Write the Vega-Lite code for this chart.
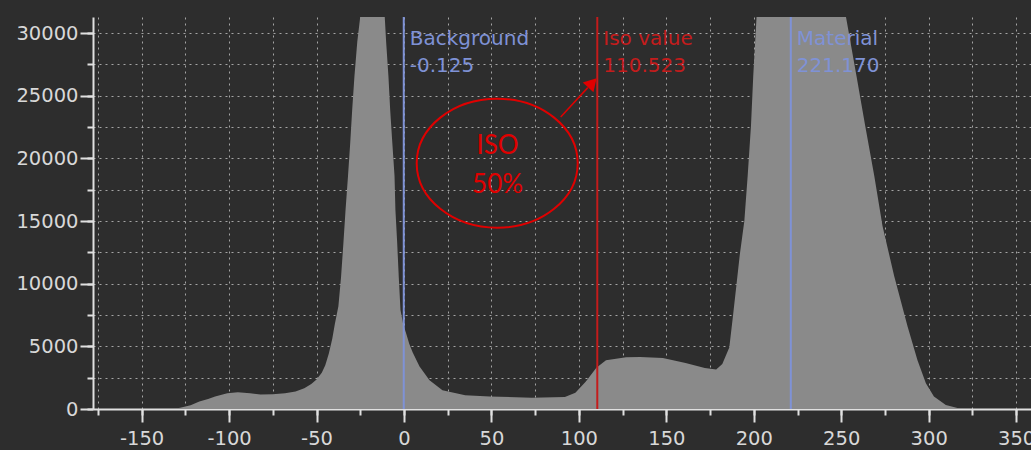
{
  "$schema": "https://vega.github.io/schema/vega-lite/v6.json",
  "width": 938,
  "height": 392,
  "autosize": {"type": "none"},
  "padding": {"left": 93, "top": 17, "right": 0, "bottom": 41},
  "background": "#2d2d2d",
  "config": {"view": {"stroke": null}},
  "datasets": {
    "hist": [
      {"v": -178, "count": 0}, {"v": -132, "count": 0}, {"v": -128, "count": 100}, {"v": -122, "count": 300},
      {"v": -117, "count": 600}, {"v": -112, "count": 800}, {"v": -108, "count": 1000}, {"v": -101, "count": 1250},
      {"v": -95, "count": 1330}, {"v": -88, "count": 1250}, {"v": -82, "count": 1150}, {"v": -75, "count": 1180},
      {"v": -68, "count": 1250}, {"v": -62, "count": 1400}, {"v": -57, "count": 1650}, {"v": -53, "count": 2000},
      {"v": -50, "count": 2350}, {"v": -47, "count": 2900}, {"v": -45, "count": 3500}, {"v": -43, "count": 4400},
      {"v": -41, "count": 5600}, {"v": -39.5, "count": 6800}, {"v": -37.5, "count": 8200}, {"v": -36, "count": 10500},
      {"v": -34.6, "count": 13300}, {"v": -33.4, "count": 15900}, {"v": -32, "count": 18600}, {"v": -30.7, "count": 21300},
      {"v": -29.6, "count": 23900}, {"v": -28.3, "count": 26600}, {"v": -26.7, "count": 29300}, {"v": -25, "count": 31300},
      {"v": -18, "count": 40000}, {"v": -11, "count": 31300}, {"v": -10.2, "count": 29300}, {"v": -8.9, "count": 26600},
      {"v": -7.9, "count": 23900}, {"v": -6.7, "count": 21300}, {"v": -5.4, "count": 18600}, {"v": -4.9, "count": 15900},
      {"v": -3.9, "count": 13300}, {"v": -3, "count": 10600}, {"v": -2, "count": 7900}, {"v": -0.5, "count": 6800},
      {"v": 1.3, "count": 6000}, {"v": 3, "count": 5200}, {"v": 5, "count": 4500}, {"v": 8.9, "count": 3400},
      {"v": 14.6, "count": 2300}, {"v": 22, "count": 1500}, {"v": 35, "count": 1100}, {"v": 49, "count": 1000},
      {"v": 73, "count": 900}, {"v": 92, "count": 960}, {"v": 98, "count": 1300}, {"v": 104, "count": 2200},
      {"v": 110, "count": 3300}, {"v": 115.5, "count": 3900}, {"v": 127, "count": 4120}, {"v": 135, "count": 4150},
      {"v": 148, "count": 4070}, {"v": 161, "count": 3670}, {"v": 172, "count": 3270}, {"v": 178.5, "count": 3150},
      {"v": 182, "count": 3600}, {"v": 186, "count": 4900}, {"v": 188, "count": 7300}, {"v": 190, "count": 9800},
      {"v": 192, "count": 12300}, {"v": 194.6, "count": 15000}, {"v": 196.5, "count": 18600}, {"v": 198.4, "count": 22600},
      {"v": 199.7, "count": 26600}, {"v": 201.6, "count": 31300}, {"v": 227, "count": 42000}, {"v": 252.7, "count": 31300},
      {"v": 258.7, "count": 26600}, {"v": 263.7, "count": 22600}, {"v": 268.9, "count": 18600}, {"v": 273.6, "count": 14600},
      {"v": 280.3, "count": 10600}, {"v": 287.9, "count": 6600}, {"v": 293.6, "count": 3900}, {"v": 298.4, "count": 2050},
      {"v": 303, "count": 1000}, {"v": 309.8, "count": 320}, {"v": 317, "count": 50}, {"v": 322, "count": 0},
      {"v": 358.5, "count": 0}
    ],
    "markers": [
      {"v": -0.125, "name": "Background", "label": "Background\n-0.125"},
      {"v": 110.523, "name": "Iso value", "label": "Iso value\n110.523"},
      {"v": 221.17, "name": "Material", "label": "Material\n221.170"}
    ]
  },
  "resolve": {"axis": {"x": "independent", "y": "independent"}},
  "layer": [
    {
      "data": {"name": "hist"},
      "mark": {"type": "area", "color": "#8a8a8a", "clip": true, "interpolate": "linear"},
      "encoding": {
        "x": {
          "field": "v", "type": "quantitative",
          "scale": {"domain": [-177.8, 358.5], "nice": false, "zero": false},
          "axis": {
            "orient": "bottom", "title": null, "labels": false,
            "values": [-175, -150, -125, -100, -75, -50, -25, 0, 25, 50, 75, 100, 125, 150, 175, 200, 225, 250, 275, 300, 325, 350],
            "tickSize": 6, "tickColor": "#e0e0e0", "tickWidth": 2,
            "domain": true, "domainColor": "#e0e0e0", "domainWidth": 2,
            "grid": true, "gridColor": "#a5a5a5", "gridDash": [2, 4], "gridWidth": 1
          }
        },
        "y": {
          "field": "count", "type": "quantitative",
          "scale": {"domain": [0, 31280], "nice": false},
          "axis": {
            "orient": "left", "title": null, "labels": false,
            "values": [0, 2500, 5000, 7500, 10000, 12500, 15000, 17500, 20000, 22500, 25000, 27500, 30000],
            "tickSize": 6, "tickColor": "#e0e0e0", "tickWidth": 2,
            "domain": true, "domainColor": "#e0e0e0", "domainWidth": 2,
            "grid": true, "gridColor": "#a5a5a5", "gridDash": [2, 4], "gridWidth": 1
          }
        }
      }
    },
    {
      "data": {"name": "markers"},
      "mark": {"type": "rule", "strokeWidth": 2},
      "encoding": {
        "x": {
          "field": "v", "type": "quantitative",
          "axis": {
            "orient": "bottom", "title": null,
            "values": [-150, -100, -50, 0, 50, 100, 150, 200, 250, 300, 350],
            "tickSize": 13, "tickColor": "#e0e0e0", "tickWidth": 2,
            "domain": false, "grid": false,
            "labelFont": "DejaVu Sans", "labelFontSize": 19.5, "labelColor": "#d8d8d8",
            "labelPadding": 7, "labelFlush": false, "labelOverlap": false,
            "labelExpr": "replace(datum.label, '\u2212', '-')"
          }
        },
        "color": {
          "field": "name", "type": "nominal",
          "scale": {"domain": ["Background", "Iso value", "Material"], "range": ["#7f92d6", "#c41c1c", "#7f92d6"]},
          "legend": null
        }
      }
    },
    {
      "data": {"name": "markers"},
      "mark": {"type": "text", "align": "left", "baseline": "top", "dx": 6, "font": "DejaVu Sans", "fontSize": 20, "lineBreak": "\n", "lineHeight": 27},
      "encoding": {
        "x": {"field": "v", "type": "quantitative", "axis": null},
        "y": {
          "datum": 30300, "type": "quantitative",
          "axis": {
            "orient": "left", "title": null, "format": "d",
            "values": [0, 5000, 10000, 15000, 20000, 25000, 30000],
            "tickSize": 13, "tickColor": "#e0e0e0", "tickWidth": 2,
            "domain": false, "grid": false,
            "labelFont": "DejaVu Sans", "labelFontSize": 19.5, "labelColor": "#d8d8d8",
            "labelPadding": 2, "labelFlush": false, "labelOverlap": false
          }
        },
        "text": {"field": "label"},
        "color": {
          "field": "name", "type": "nominal",
          "scale": {"domain": ["Background", "Iso value", "Material"], "range": ["#8a9ee2", "#d21c1c", "#8a9ee2"]},
          "legend": null
        }
      }
    },
    {
      "data": {"values": [{}]},
      "mark": {"type": "point", "shape": "M-1,0A1,0.801,0,1,1,1,0A1,0.801,0,1,1,-1,0Z", "size": 25921, "filled": false, "stroke": "#e00000", "strokeWidth": 2, "opacity": 1},
      "encoding": {
        "x": {"datum": 53.3, "type": "quantitative", "axis": null},
        "y": {"datum": 19612, "type": "quantitative", "axis": null}
      }
    },
    {
      "data": {"values": [{"t": "ISO", "pos": 20950}, {"t": "50%", "pos": 17900}]},
      "mark": {"type": "text", "align": "center", "baseline": "middle", "font": "Lato", "fontSize": 26, "color": "#e00000"},
      "encoding": {
        "x": {"datum": 53.5, "type": "quantitative", "axis": null},
        "y": {"field": "pos", "type": "quantitative", "axis": null},
        "text": {"field": "t"}
      }
    },
    {
      "data": {"values": [{}]},
      "mark": {"type": "rule", "color": "#e00000", "strokeWidth": 1.5},
      "encoding": {
        "x": {"datum": 89.6, "type": "quantitative", "axis": null},
        "y": {"datum": 23300, "type": "quantitative", "axis": null},
        "x2": {"datum": 105.1},
        "y2": {"datum": 25645}
      }
    },
    {
      "data": {"values": [{}]},
      "mark": {"type": "point", "shape": "triangle-up", "size": 210, "filled": true, "color": "#e00000", "opacity": 1, "angle": 42.7},
      "encoding": {
        "x": {"datum": 107.7, "type": "quantitative", "axis": null},
        "y": {"datum": 26027, "type": "quantitative", "axis": null}
      }
    }
  ]
}
